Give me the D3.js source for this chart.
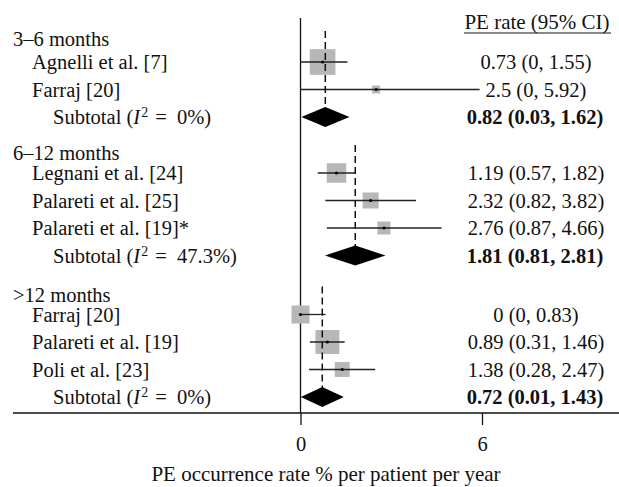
<!DOCTYPE html>
<html>
<head>
<meta charset="utf-8">
<script src="https://cdn.jsdelivr.net/npm/d3@7"></script>
<style>
  html, body { margin: 0; padding: 0; background: #fff; }
  svg { display: block; }
  text { font-family: "Liberation Serif", "Times New Roman", serif; fill: #111; }
</style>
</head>
<body>
<script>
// ---- data ----
const groupNames = ["3\u20136 months", "6\u201312 months", ">12 months"];
const groupI2 = ["0%", "47.3%", "0%"];
const subtotalEst = [0.82, 1.81, 0.72];
const subtotalLo = [0.03, 0.81, 0.01];
const subtotalHi = [1.62, 2.81, 1.43];

const studyNames = ["Agnelli et al. [7]", "Farraj [20]",
  "Legnani et al. [24]", "Palareti et al. [25]", "Palareti et al. [19]*",
  "Farraj [20]", "Palareti et al. [19]", "Poli et al. [23]"];
const studyGroup = [0, 0, 1, 1, 1, 2, 2, 2];
const studyEst = [0.73, 2.5, 1.19, 2.32, 2.76, 0, 0.89, 1.38];
const studyLo = [0, 0, 0.57, 0.82, 0.87, 0, 0.31, 0.28];
const studyHi = [1.55, 5.92, 1.82, 3.82, 4.66, 0.83, 1.46, 2.47];
const studyWeight = [20.5, 2.0, 11.8, 8.0, 5.2, 10.1, 17.8, 6.9];

const xTicks = [0, 6];
const headerLabel = "PE rate (95% CI)";
const xTitle = "PE occurrence rate % per patient per year";

// ---- layout ----
const W = 619, H = 487;
const FS = 20.5;
const svg = d3.select("body").append("svg").attr("width", W).attr("height", H);

const x = d3.scaleLinear().domain([0, 6]).range([300.5, 482]);
const boxSide = d3.scaleSqrt().domain([0, 21]).range([0, 26]);

// compute row positions
const firstY = 39, headGap = 20, step = 27.5, groupGap = 39;
const rows = [];
let cy = firstY;
groupNames.forEach((g, gi) => {
  rows.push({type: "head", g: gi, y: cy});
  cy += (gi === 0 ? headGap + 3 : headGap);
  studyNames.forEach((s, si) => {
    if (studyGroup[si] === gi) {
      rows.push({type: "study", g: gi, i: si, y: cy});
      cy += step;
    }
  });
  rows.push({type: "sub", g: gi, y: cy});
  cy += (gi === 0 ? groupGap - 3 : groupGap);
});

const axisY = 413;
const fmt = v => String(v);

// zero line
svg.append("line")
  .attr("x1", x(0)).attr("x2", x(0)).attr("y1", 18).attr("y2", axisY)
  .attr("stroke", "#111").attr("stroke-width", 1.3);

// header
svg.append("text").attr("x", 537).attr("y", 22).attr("dy", "0.35em")
  .attr("text-anchor", "middle").attr("font-size", FS + 0.5).text(headerLabel);
svg.append("line").attr("x1", 464).attr("x2", 611).attr("y1", 33).attr("y2", 33)
  .attr("stroke", "#111").attr("stroke-width", 1.2);

// study rows
const studyRows = rows.filter(r => r.type === "study");
const gStudy = svg.append("g");
gStudy.selectAll("rect.box").data(studyRows).join("rect")
  .attr("class", "box")
  .attr("x", r => x(studyEst[r.i]) - boxSide(studyWeight[r.i]) / 2)
  .attr("y", r => r.y - boxSide(studyWeight[r.i]) / 2)
  .attr("width", r => boxSide(studyWeight[r.i]))
  .attr("height", r => boxSide(studyWeight[r.i]))
  .attr("fill", "#b7b7b7");
gStudy.selectAll("line.ci").data(studyRows).join("line")
  .attr("class", "ci")
  .attr("x1", r => x(studyLo[r.i])).attr("x2", r => x(studyHi[r.i]))
  .attr("y1", r => r.y).attr("y2", r => r.y)
  .attr("stroke", "#222").attr("stroke-width", 1.3);
gStudy.selectAll("circle").data(studyRows).join("circle")
  .attr("cx", r => x(studyEst[r.i])).attr("cy", r => r.y).attr("r", 1.6)
  .attr("fill", "#000");

// pooled dashed lines and diamonds
const subRows = rows.filter(r => r.type === "sub");
const headRows = rows.filter(r => r.type === "head");
svg.append("g").selectAll("line").data(subRows).join("line")
  .attr("x1", r => x(subtotalEst[r.g])).attr("x2", r => x(subtotalEst[r.g]))
  .attr("y1", r => headRows[r.g].y - 8).attr("y2", r => r.y)
  .attr("stroke", "#111").attr("stroke-width", 1.5)
  .attr("stroke-dasharray", "7,4");
svg.append("g").selectAll("path").data(subRows).join("path")
  .attr("d", r => {
    const h = 10;
    return `M${x(subtotalLo[r.g])},${r.y} L${x(subtotalEst[r.g])},${r.y - h} L${x(subtotalHi[r.g])},${r.y} L${x(subtotalEst[r.g])},${r.y + h} Z`;
  })
  .attr("fill", "#000");

// left labels
const gLab = svg.append("g").attr("font-size", FS);
headRows.forEach(r => {
  gLab.append("text").attr("x", 13).attr("y", r.y).attr("dy", "0.35em").text(groupNames[r.g]);
});
studyRows.forEach(r => {
  gLab.append("text").attr("x", 32).attr("y", r.y).attr("dy", "0.35em").text(studyNames[r.i]);
});
subRows.forEach(r => {
  const t = gLab.append("text").attr("x", 53).attr("y", r.y).attr("dy", "0.35em")
    .attr("xml:space", "preserve");
  t.append("tspan").text("Subtotal (");
  t.append("tspan").attr("font-style", "italic").text("I");
  t.append("tspan").attr("font-size", FS * 0.68).attr("dy", "-0.5em").attr("dx", 1).text("2");
  t.append("tspan").attr("dy", "0.34em").attr("dx", 2).text(" =  " + groupI2[r.g] + ")");
});

// right column
const gRight = svg.append("g").attr("font-size", FS).attr("text-anchor", "middle");
studyRows.forEach(r => {
  gRight.append("text").attr("x", 536).attr("y", r.y).attr("dy", "0.35em")
    .text(`${fmt(studyEst[r.i])} (${fmt(studyLo[r.i])}, ${fmt(studyHi[r.i])})`);
});
subRows.forEach(r => {
  gRight.append("text").attr("x", 535).attr("y", r.y).attr("dy", "0.35em")
    .attr("font-weight", "bold")
    .text(`${fmt(subtotalEst[r.g])} (${fmt(subtotalLo[r.g])}, ${fmt(subtotalHi[r.g])})`);
});

// axis
svg.append("line").attr("x1", 13).attr("x2", W).attr("y1", axisY).attr("y2", axisY)
  .attr("stroke", "#111").attr("stroke-width", 1.3);
const ax = svg.append("g").attr("transform", `translate(0,${axisY})`)
  .call(d3.axisBottom(x).tickValues(xTicks).tickSize(12).tickPadding(11).tickFormat(d3.format("d")));
ax.select(".domain").remove();
ax.selectAll("line").attr("stroke", "#111").attr("stroke-width", 1.3);
ax.selectAll("text").attr("font-size", FS).attr("font-family", "Liberation Serif, serif").attr("fill", "#111");

svg.append("text").attr("x", 326).attr("y", 481).attr("text-anchor", "middle")
  .attr("font-size", FS + 0.5).text(xTitle);
</script>
</body>
</html>
